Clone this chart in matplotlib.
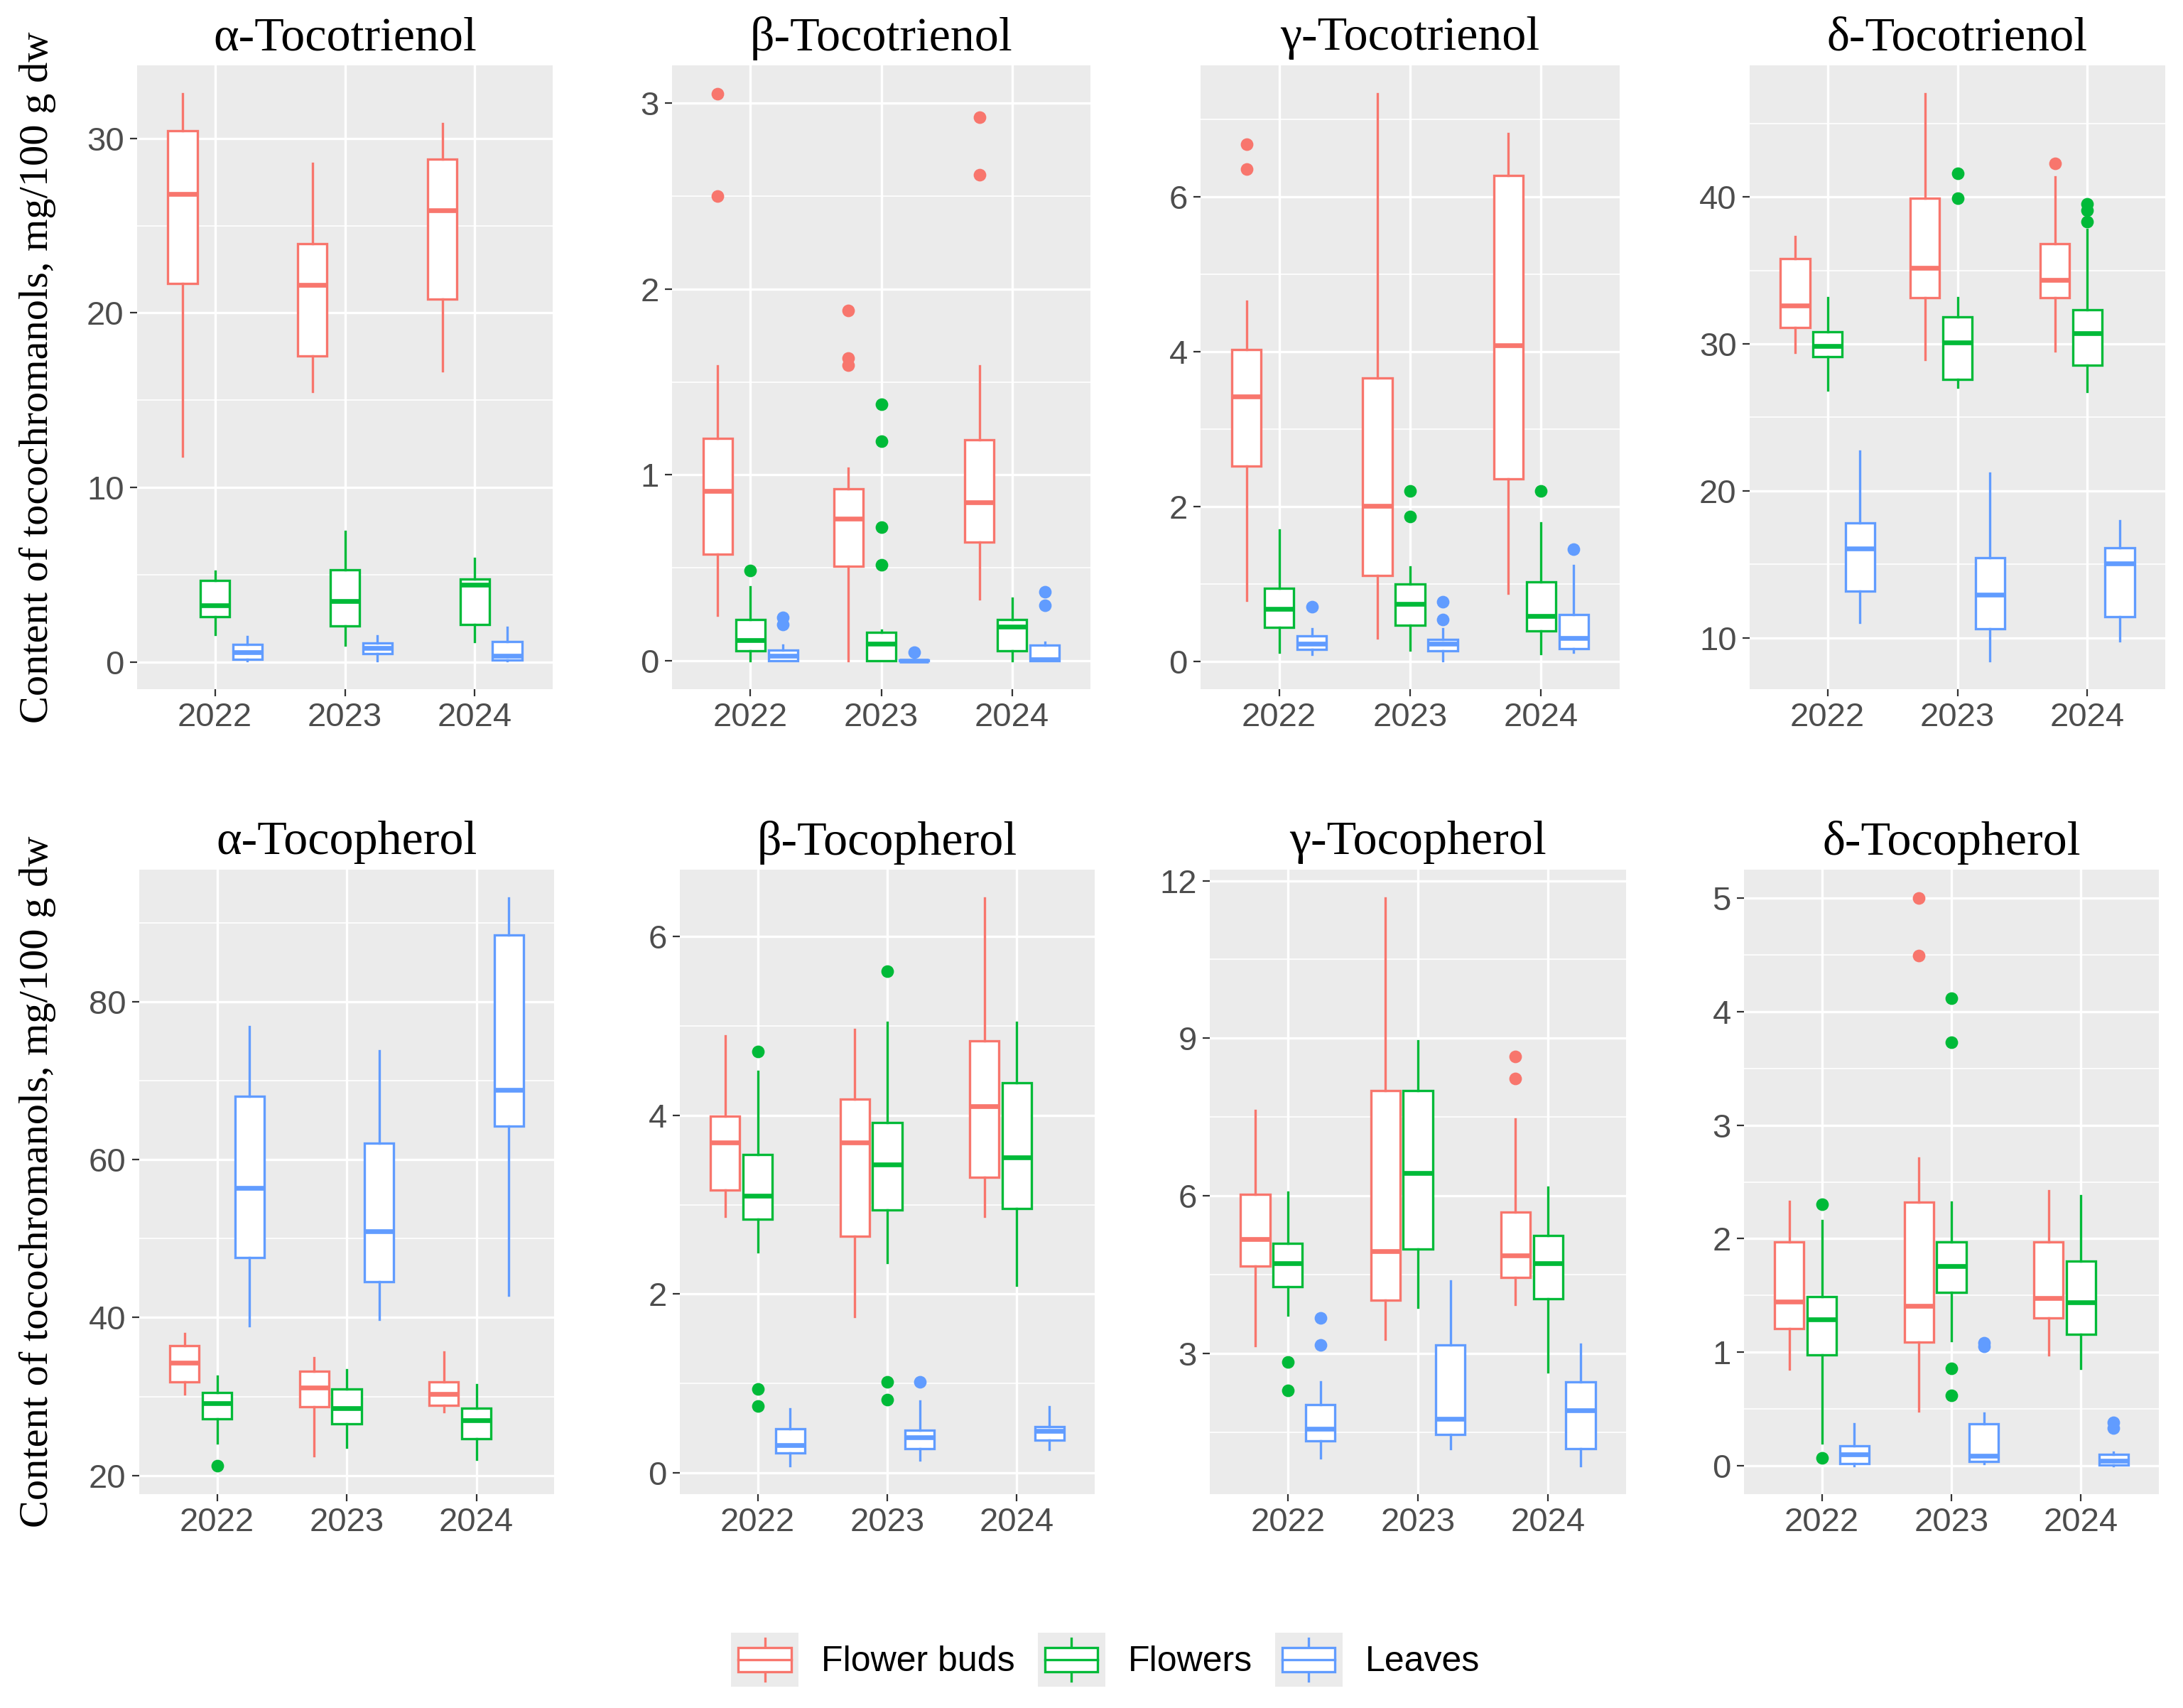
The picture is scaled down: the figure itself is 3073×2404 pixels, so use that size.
import matplotlib
matplotlib.use("Agg")
import matplotlib.pyplot as plt
from matplotlib.patches import Rectangle, Patch
from matplotlib.lines import Line2D
from matplotlib.legend_handler import HandlerBase
import numpy as np

# ---------------- data (whislo, q1, median, q3, whishi) per year ----------------
years = ["2022", "2023", "2024"]
groups = ["Flower buds", "Flowers", "Leaves"]
colors = ["#F8766D", "#00BA38", "#619CFF"]

titles = ["\u03b1-Tocotrienol", "\u03b2-Tocotrienol", "\u03b3-Tocotrienol", "\u03b4-Tocotrienol",
          "\u03b1-Tocopherol", "\u03b2-Tocopherol", "\u03b3-Tocopherol", "\u03b4-Tocopherol"]

alpha_t3 = {
    "Flower buds": [(11.8, 21.7, 26.8, 30.44, 32.56), (15.48, 17.52, 21.6, 23.97, 28.57), (16.67, 20.8, 25.87, 28.8, 30.83)],
    "Flowers": [(1.57, 2.59, 3.22, 4.66, 5.2), (0.94, 2.04, 3.47, 5.29, 7.49), (1.16, 2.12, 4.44, 4.74, 5.92)],
    "Leaves": [(0.08, 0.14, 0.55, 1.02, 1.43), (0.06, 0.47, 0.8, 1.07, 1.49), (0.06, 0.11, 0.33, 1.16, 1.98)],
}
alpha_t3_out = {"Flower buds": [[], [], []], "Flowers": [[], [], []], "Leaves": [[], [], []]}

beta_t3 = {
    "Flower buds": [(0.246, 0.574, 0.913, 1.195, 1.585), (0.0, 0.507, 0.765, 0.926, 1.037), (0.331, 0.639, 0.853, 1.19, 1.585)],
    "Flowers": [(0.0, 0.054, 0.111, 0.222, 0.396), (0.0, 0.0, 0.093, 0.155, 0.163), (0.0, 0.054, 0.184, 0.222, 0.336)],
    "Leaves": [(0.0, 0.0, 0.028, 0.059, 0.085), (0.0, 0.0, 0.001, 0.004, 0.008), (0.0, 0.0, 0.008, 0.085, 0.098)],
}
beta_t3_out = {"Flower buds": [[3.05, 2.50], [1.883, 1.63, 1.59], [2.922, 2.614]],
               "Flowers": [[0.486], [1.378, 1.182, 0.719, 0.517], []],
               "Leaves": [[0.233, 0.194], [0.047], [0.37, 0.297]]}

gamma_t3 = {
    "Flower buds": [(0.79, 2.52, 3.42, 4.03, 4.65), (0.30, 1.11, 2.01, 3.66, 7.33), (0.88, 2.36, 4.08, 6.27, 6.82)],
    "Flowers": [(0.12, 0.44, 0.68, 0.95, 1.70), (0.15, 0.47, 0.74, 1.0, 1.22), (0.105, 0.40, 0.59, 1.03, 1.79)],
    "Leaves": [(0.09, 0.155, 0.23, 0.335, 0.42), (0.01, 0.14, 0.23, 0.29, 0.42), (0.12, 0.17, 0.30, 0.61, 1.24)],
}
gamma_t3_out = {"Flower buds": [[6.68, 6.36], [], []],
                "Flowers": [[], [2.20, 1.87], [2.20]],
                "Leaves": [[0.71], [0.775, 0.54], [1.45]]}

delta_t3 = {
    "Flower buds": [(29.40, 31.10, 32.60, 35.81, 37.31), (28.94, 33.13, 35.19, 39.90, 47.03), (29.53, 33.13, 34.37, 36.82, 41.37)],
    "Flowers": [(26.85, 29.14, 29.86, 30.84, 33.13), (27.04, 27.6, 30.09, 31.82, 33.13), (26.75, 28.55, 30.74, 32.31, 37.77)],
    "Leaves": [(11.05, 13.17, 16.08, 17.82, 22.72), (8.43, 10.62, 12.91, 15.46, 21.19), (9.80, 11.44, 15.04, 16.12, 17.98)],
}
delta_t3_out = {"Flower buds": [[], [], [42.29]],
                "Flowers": [[], [41.63, 39.90], [39.54, 39.08, 38.33]],
                "Leaves": [[], [], []]}

alpha_t = {
    "Flower buds": [(30.37, 31.86, 34.28, 36.45, 38.0), (22.48, 28.69, 31.17, 33.22, 34.9), (28.07, 28.88, 30.37, 31.86, 35.64)],
    "Flowers": [(24.16, 27.14, 29.12, 30.55, 32.6), (23.54, 26.52, 28.57, 30.99, 33.35), (22.05, 24.66, 27.01, 28.57, 31.48)],
    "Leaves": [(38.93, 47.62, 56.44, 67.98, 76.8), (39.74, 44.52, 50.91, 62.09, 73.82), (42.84, 64.2, 68.85, 88.4, 93.12)],
}
alpha_t_out = {"Flower buds": [[], [], []], "Flowers": [[21.24], [], []], "Leaves": [[], [], []]}

beta_t = {
    "Flower buds": [(2.87, 3.16, 3.70, 3.99, 4.89), (1.75, 2.65, 3.70, 4.18, 4.96), (2.87, 3.31, 4.10, 4.83, 6.43)],
    "Flowers": [(2.47, 2.84, 3.10, 3.56, 4.49), (2.35, 2.94, 3.45, 3.92, 5.04), (2.10, 2.96, 3.53, 4.36, 5.04)],
    "Leaves": [(0.08, 0.22, 0.31, 0.49, 0.72), (0.14, 0.27, 0.40, 0.48, 0.80), (0.26, 0.37, 0.47, 0.515, 0.74)],
}
beta_t_out = {"Flower buds": [[], [], []],
              "Flowers": [[4.71, 0.94, 0.745], [5.61, 1.02, 0.82], []],
              "Leaves": [[], [1.02], []]}

gamma_t = {
    "Flower buds": [(3.15, 4.66, 5.18, 6.03, 7.62), (3.27, 4.01, 4.94, 8.0, 11.67), (3.93, 4.45, 4.86, 5.69, 7.46)],
    "Flowers": [(3.73, 4.27, 4.71, 5.10, 6.07), (3.88, 4.99, 6.43, 8.0, 8.95), (2.64, 4.04, 4.71, 5.25, 6.17)],
    "Leaves": [(1.01, 1.33, 1.56, 2.02, 2.46), (1.19, 1.45, 1.76, 3.16, 4.38), (0.86, 1.19, 1.91, 2.46, 3.17)],
}
gamma_t_out = {"Flower buds": [[], [], [8.65, 8.24]],
               "Flowers": [[2.84, 2.30], [], []],
               "Leaves": [[3.67, 3.16], [], []]}

delta_t = {
    "Flower buds": [(0.85, 1.21, 1.445, 1.97, 2.33), (0.48, 1.09, 1.41, 2.32, 2.71), (0.975, 1.30, 1.475, 1.97, 2.42)],
    "Flowers": [(0.20, 0.975, 1.29, 1.49, 2.16), (1.10, 1.53, 1.76, 1.97, 2.32), (0.855, 1.16, 1.44, 1.80, 2.38)],
    "Leaves": [(0.0, 0.017, 0.10, 0.177, 0.37), (0.017, 0.035, 0.09, 0.37, 0.466), (0.0, 0.009, 0.043, 0.10, 0.12)],
}
delta_t_out = {"Flower buds": [[], [5.0, 4.49], []],
               "Flowers": [[2.30, 0.07], [4.12, 3.73, 0.855, 0.62], []],
               "Leaves": [[], [1.08, 1.05], [0.38, 0.33]]}

panel_stats = [alpha_t3, beta_t3, gamma_t3, delta_t3, alpha_t, beta_t, gamma_t, delta_t]
panel_out = [alpha_t3_out, beta_t3_out, gamma_t3_out, delta_t3_out,
             alpha_t_out, beta_t_out, gamma_t_out, delta_t_out]
panel_ticks = [[0, 10, 20, 30], [0, 1, 2, 3], [0, 2, 4, 6], [10, 20, 30, 40],
               [20, 40, 60, 80], [0, 2, 4, 6], [3, 6, 9, 12], [0, 1, 2, 3, 4, 5]]

ylabel = "Content of tocochromanols, mg/100 g dw"

# ---------------- layout ----------------
W, H = 3073, 2404
DPI = 200
fig = plt.figure(figsize=(W / DPI, H / DPI), dpi=DPI)
fig.patch.set_facecolor("white")

# pixel boxes (left, top, right, bottom)
boxes_px = [(193, 92, 778, 970), (946, 92, 1535, 970), (1690, 92, 2280, 970), (2463, 92, 3048, 970),
            (196, 1224, 780, 2103), (957, 1224, 1541, 2103), (1703, 1224, 2289, 2103), (2455, 1224, 3039, 2103)]

serif = ["Liberation Serif", "DejaVu Serif"]
sans = ["Liberation Sans", "DejaVu Sans"]
BG = "#EBEBEB"
tick_col = "#4D4D4D"

dodge = [-0.25, 0.0, 0.25]
box_w = 0.225

for k in range(8):
    l, t, r, b = boxes_px[k]
    ax = fig.add_axes([l / W, 1 - b / H, (r - l) / W, (b - t) / H])
    ax.set_facecolor(BG)
    for s in ax.spines.values():
        s.set_visible(False)
    ax.set_axisbelow(True)

    stats = panel_stats[k]
    outs = panel_out[k]
    allv = []
    for gi, g in enumerate(groups):
        c = colors[gi]
        bstats = []
        pos = []
        for yi in range(3):
            lo, q1, med, q3, hi = stats[g][yi]
            fl = outs[g][yi]
            allv += [lo, hi] + list(fl)
            bstats.append(dict(whislo=lo, q1=q1, med=med, q3=q3, whishi=hi, fliers=fl))
            pos.append(yi + 1 + dodge[gi])
        ax.bxp(bstats, positions=pos, widths=box_w, patch_artist=True, showcaps=False,
               boxprops=dict(facecolor="white", edgecolor=c, linewidth=1.2),
               medianprops=dict(color=c, linewidth=2.4, solid_capstyle="butt"),
               whiskerprops=dict(color=c, linewidth=1.2),
               flierprops=dict(marker="o", markerfacecolor=c, markeredgecolor=c, markersize=5.4,
                               linestyle="none"),
               manage_ticks=False, zorder=3)

    vmin, vmax = min(allv), max(allv)
    pad = 0.05 * (vmax - vmin)
    ylo, yhi = vmin - pad, vmax + pad
    ax.set_ylim(ylo, yhi)
    ax.set_xlim(0.4, 3.6)

    ticks = panel_ticks[k]
    step = ticks[1] - ticks[0]
    ax.set_yticks(ticks)
    ax.set_yticklabels([str(v) for v in ticks])
    minors = [ticks[0] - step / 2] + [v + step / 2 for v in ticks]
    minors = [m for m in minors if ylo < m < yhi]
    ax.set_yticks(minors, minor=True)
    ax.set_xticks([1, 2, 3])
    ax.set_xticklabels(years)

    ax.grid(True, which="major", color="white", linewidth=1.2)
    ax.grid(True, which="minor", axis="y", color="white", linewidth=0.6)
    ax.tick_params(axis="both", which="major", length=3.6, width=0.8, color="#333333",
                   labelsize=17, labelcolor=tick_col, pad=3)
    ax.tick_params(axis="y", which="minor", length=0)
    for lab in ax.get_xticklabels() + ax.get_yticklabels():
        lab.set_fontfamily(sans)

    ax.text(0.5, 1 + 38 / (b - t), titles[k], transform=ax.transAxes, ha="center", va="center",
            fontsize=24.5, fontfamily=serif, color="black")

    if k in (0, 4):
        fig.text(53 / W, 1 - ((t + b) / 2) / H, ylabel, rotation=90, ha="center", va="center",
                 fontsize=21, fontfamily=serif, color="black")


# ---------------- legend ----------------
class BoxKey(HandlerBase):
    def create_artists(self, legend, orig_handle, xdescent, ydescent, width, height, fontsize, trans):
        c = orig_handle.get_edgecolor()
        x0, y0 = -xdescent, -ydescent
        arts = [Rectangle((x0, y0), width, height, facecolor=BG, edgecolor="none", transform=trans)]
        xm = x0 + 0.5 * width
        arts.append(Line2D([xm, xm], [y0 + 0.10 * height, y0 + 0.27 * height], color=c, lw=1.2, transform=trans))
        arts.append(Line2D([xm, xm], [y0 + 0.73 * height, y0 + 0.90 * height], color=c, lw=1.2, transform=trans))
        arts.append(Rectangle((x0 + 0.11 * width, y0 + 0.27 * height), 0.78 * width, 0.46 * height,
                              facecolor="white", edgecolor=c, lw=1.2, transform=trans))
        arts.append(Line2D([x0 + 0.11 * width, x0 + 0.89 * width], [y0 + 0.5 * height] * 2,
                           color=c, lw=1.2, transform=trans))
        return arts


handles = [Patch(facecolor="white", edgecolor=colors[i], label=groups[i]) for i in range(3)]
leg = fig.legend(handles=handles, labels=groups, loc="center", bbox_to_anchor=(1556 / W, 1 - 2336 / H),
                 ncol=3, frameon=False, handler_map={Patch: BoxKey()},
                 prop=dict(family=sans, size=18), handlelength=1.9, handleheight=1.94,
                 handletextpad=0.64, columnspacing=0.64, borderaxespad=0, borderpad=0)

fig.savefig("out.png", dpi=DPI, facecolor="white")
